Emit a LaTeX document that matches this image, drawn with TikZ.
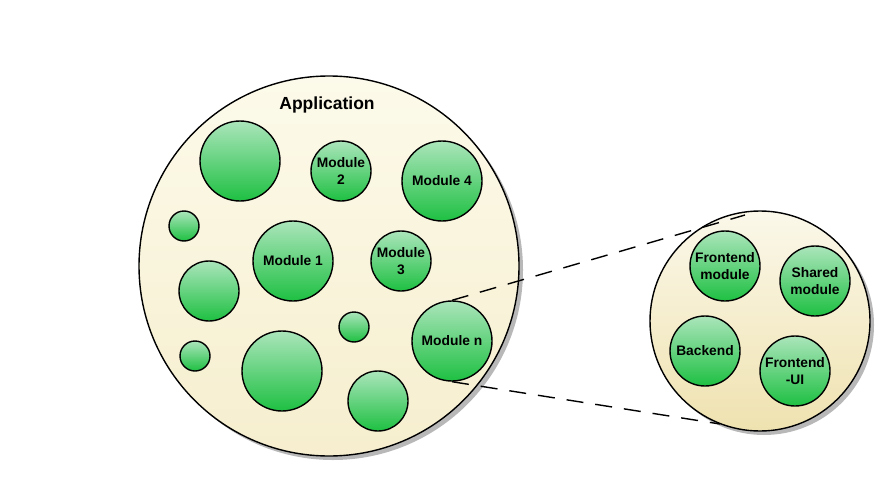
\documentclass[tikz,border=0pt]{standalone}
\usepackage{fontspec}
\setmainfont{Liberation Sans}
\usetikzlibrary{shadows}
\definecolor{gtop}{HTML}{ABE5BB}
\definecolor{gbot}{HTML}{1EC042}
\definecolor{btop}{HTML}{FCFAEA}
\definecolor{bbot}{HTML}{F6EECE}
\definecolor{rtop}{HTML}{FBF8EA}
\definecolor{rbot}{HTML}{EFE2B0}
\tikzset{
  modc/.style={circle, draw=black, line width=1.4pt, top color=gtop, bottom color=gbot,
    minimum size=#1, inner sep=0pt, align=center,
    font=\fontsize{13.8}{16.5}\selectfont\bfseries},
  bigc/.style={circle, draw=black, line width=1.4pt, minimum size=#1, inner sep=0pt,
    drop shadow={shadow xshift=4pt, shadow yshift=-4pt, fill=black!35, opacity=0.8}},
  zoomline/.style={line width=1.4pt, dash pattern=on 17pt off 12pt},
}
\begin{document}
\begin{tikzpicture}[x=1pt,y=-1pt]
\useasboundingbox (0,0) rectangle (890,476);
% main application circle
\node[bigc=380pt, top color=btop, bottom color=bbot] (app) at (329,266) {};
\node[font=\fontsize{17.5}{20}\selectfont\bfseries] (applabel) at (327,105) {Application};
\node[modc=80pt] (u1) at (240,161) {};
\node[modc=60pt] (m2) at (341,171) {Module\\2};
\node[modc=80pt] (m4) at (442,181) {Module 4};
\node[modc=30pt] (s1) at (184,226) {};
\node[modc=80pt] (m1) at (293,261) {Module 1};
\node[modc=60pt] (m3) at (401,261) {Module\\3};
\node[modc=60pt] (u2) at (209,291) {};
\node[modc=30pt] (s2) at (354,327) {};
\node[modc=80pt] (mn) at (452,341) {Module n};
\node[modc=30pt] (s3) at (195,356) {};
\node[modc=80pt] (u3) at (282,371) {};
\node[modc=60pt] (u4) at (378,401) {};
% zoom circle
\node[bigc=220pt, top color=rtop, bottom color=rbot] (zoom) at (760,321) {};
\node[modc=70pt] (fm) at (725,266) {Frontend\\module};
\node[modc=70pt] (sm) at (815,281) {Shared\\module};
\node[modc=70pt] (be) at (705,351) {Backend};
\node[modc=70pt] (fu) at (795,371) {Frontend\\-UI};
% zoom lines
\coordinate (ztop) at (745,215);
\coordinate (zbot) at (720,424);
\draw[zoomline] (mn.north) -- (ztop);
\draw[zoomline] (mn.south) -- (zbot);
\end{tikzpicture}
\end{document}
